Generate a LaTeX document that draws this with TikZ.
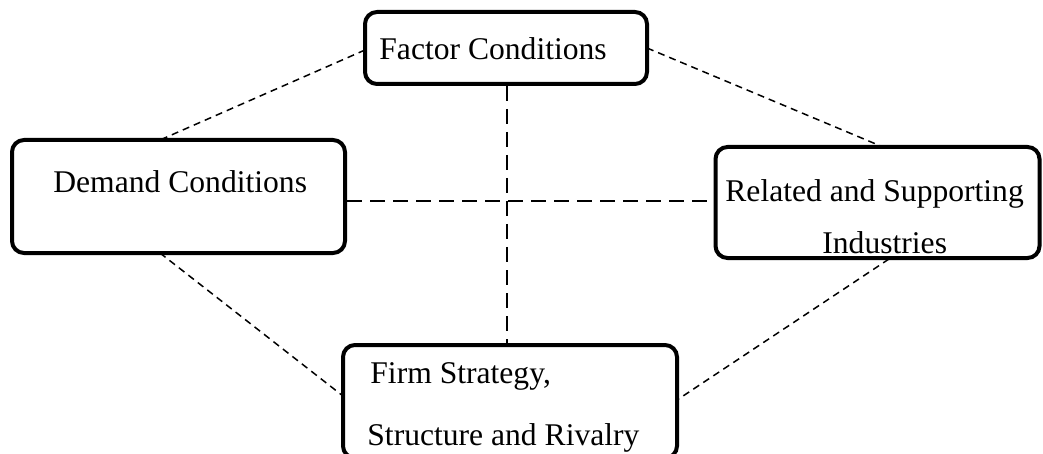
\documentclass[tikz,border=0pt]{standalone}
\usepackage{fontspec}
\setmainfont{Liberation Serif}
\begin{document}
\begin{tikzpicture}[x=0.5pt,y=-0.5pt,
  box/.style={draw=black, line width=2pt, rounded corners=6pt, inner sep=0pt, fill=white},
  lbl/.style={anchor=base west, inner sep=0pt, font=\fontsize{15.8}{19}\selectfont},
  diag/.style={line width=0.75pt, dash pattern=on 3.5pt off 2.5pt},
  straight/.style={line width=0.75pt, dash pattern=on 7.5pt off 4pt}]
\useasboundingbox (0,0) rectangle (1043,454);
% boxes
\node[box, minimum width=141pt, minimum height=36pt] (fc) at (506,48) {};
\node[box, minimum width=166.5pt, minimum height=56.5pt] (dc) at (178.5,196.5) {};
\node[box, minimum width=162pt, minimum height=55.5pt] (rs) at (877.5,202.5) {};
\node[box, minimum width=167pt, minimum height=56.5pt] (fs) at (510,401.5) {};
% connectors
\coordinate (fcL) at (365,50);
\coordinate (fcR) at (647,48);
\coordinate (dcT) at (160,140);
\coordinate (dcB) at (160,253);
\coordinate (rsT) at (883,147);
\coordinate (rsB) at (889,259);
\coordinate (fsL) at (343,396);
\coordinate (fsR) at (677,400);
\draw[diag] (fcL) -- (dcT);
\draw[diag] (fcR) -- (rsT);
\draw[diag] (dcB) -- (fsL);
\draw[diag] (rsB) -- (fsR);
\draw[straight] (dc.east |- 0,201) -- (rs.west |- 0,201);
\draw[straight] (fc.south -| 507,0) -- (fs.north -| 507,0);
% texts
\node[lbl] (t1) at (379,60) {Factor Conditions};
\node[lbl] (t2) at (53,193) {Demand Conditions};
\node[lbl] (t3) at (725,202) {Related and Supporting};
\node[lbl] (t4) at (822,253) {Industries};
\node[lbl] (t5) at (370,383) {Firm Strategy,};
\node[lbl] (t6) at (367,445) {Structure and Rivalry};
\end{tikzpicture}
\end{document}
